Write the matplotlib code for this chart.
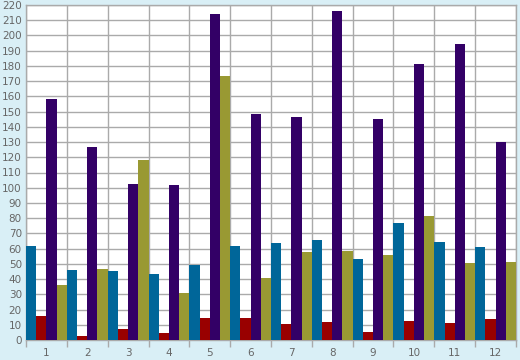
import matplotlib
matplotlib.use("Agg")
import matplotlib.pyplot as plt
import numpy as np

categories = ["1", "2", "3", "4", "5", "6", "7", "8", "9", "10", "11", "12"]
series_blue = [61.5, 46, 45.3, 43.3, 49.2, 61.7, 63.7, 65.7, 53, 76.8, 64.3, 61]
series_red = [15.8, 2.6, 7.2, 4.6, 14.4, 14.4, 10.5, 11.8, 5.3, 12.5, 11.2, 13.8]
series_purple = [158.3, 126.7, 102.4, 101.8, 214.1, 148.4, 146.5, 216, 145.2, 181.3, 194.4, 130]
series_olive = [36.1, 46.6, 118, 31, 173.4, 40.5, 57.8, 58.4, 55.8, 81.4, 50.5, 51.2]

series = [series_blue, series_red, series_purple, series_olive]
colors = ["#006699", "#990000", "#330066", "#999933"]

bg = "#d9eff6"
grid_c = "#aaaaaa"
txt_c = "#666666"

fig = plt.figure(figsize=(5.2, 3.6), dpi=100, facecolor=bg)
ax = fig.add_axes([26/520, 1 - 340/360, 490/520, 335/360])
ax.set_facecolor("white")

n = len(categories)
x = np.arange(n)
w = 0.25
for k, (vals, c) in enumerate(zip(series, colors)):
    ax.bar(x + w/2 + k*w, vals, width=w, color=c, linewidth=0, zorder=3)

ax.set_xlim(0, n)
ax.set_ylim(0, 220)
ax.set_yticks(np.arange(0, 221, 10))
ax.set_xticks(np.arange(0, n + 1))
ax.set_xticklabels([])
ax.set_xticks(x + 0.5, minor=True)
ax.set_xticklabels(categories, minor=True)

ax.grid(True, which="major", color=grid_c, linewidth=1, zorder=0)
ax.set_axisbelow(True)
for s in ax.spines.values():
    s.set_color(grid_c)
    s.set_linewidth(1)

ax.tick_params(axis="y", length=0, pad=3, labelsize=7.5, labelcolor=txt_c)
ax.tick_params(axis="x", which="major", direction="out", length=5, color=grid_c, width=1)
ax.tick_params(axis="x", which="minor", length=0, pad=6, labelsize=7.5, labelcolor=txt_c)

fig.savefig("out.png", dpi=100, facecolor=bg)
